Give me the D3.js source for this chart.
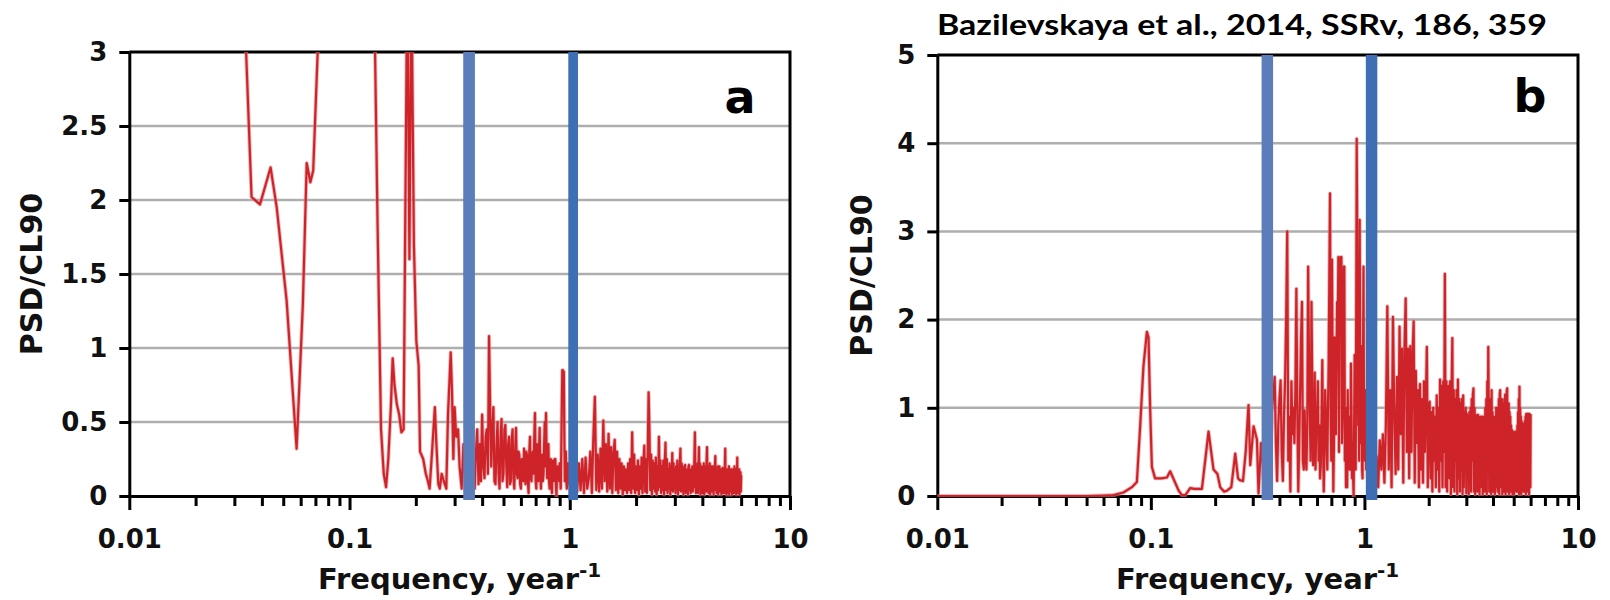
<!DOCTYPE html>
<html>
<head>
<meta charset="utf-8">
<script src="https://cdn.jsdelivr.net/npm/d3@7"></script>
<style>
  html, body { margin: 0; padding: 0; background: #fff; }
  svg { display: block; }
</style>
</head>
<body>
<svg id="chart" width="1610" height="600"></svg>
<script>
// ---------------------------------------------------------------
// Normalised power spectra (PSD divided by the 90% confidence level)
// ---------------------------------------------------------------

const titleText = "Bazilevskaya et al., 2014, SSRv, 186, 359";
const panelLetters = ["a", "b"];
const xTickLabels = [0.01, 0.1, 1, 10];
const yTicksA = [0, 0.5, 1, 1.5, 2, 2.5, 3];
const yTicksB = [0, 1, 2, 3, 4, 5];

// Frequency band edges (year^-1) marked with vertical bars
const bandA = [0.349, 1.036];
const bandB = [0.351, 1.08];

// Panel a: low-frequency part of the spectrum
const freqLowA = [0.0320, 0.0359, 0.0392, 0.0438, 0.0467, 0.0518, 0.0575, 0.0614, 0.0639, 0.0664,
  0.0684, 0.0760, 0.0900, 0.1100, 0.1250, 0.1300, 0.1340, 0.1390, 0.1430, 0.1465,
  0.1500, 0.1540, 0.1570, 0.1600, 0.1640, 0.1680, 0.1720, 0.1760, 0.1830, 0.1870,
  0.1910, 0.1960, 0.2010, 0.2060, 0.2090, 0.2160, 0.2220, 0.2270, 0.2310, 0.2370,
  0.2440, 0.2480, 0.2530, 0.2570, 0.2620, 0.2680, 0.2750, 0.2800, 0.2880, 0.2920,
  0.2960, 0.3000, 0.3050, 0.3110, 0.3160, 0.3230, 0.3290, 0.3350, 0.3420, 0.3500];
const psdLowA = [4.0, 2.02, 1.97, 2.22, 1.95, 1.32, 0.32, 1.30, 2.25, 2.12,
  2.20, 4.0, 6.0, 6.0, 5.0, 3.2, 1.85, 0.45, 0.15, 0.06,
  0.25, 0.60, 0.93, 0.75, 0.62, 0.55, 0.43, 0.45, 3.6, 1.6,
  3.5, 1.7, 1.05, 0.88, 0.30, 0.25, 0.15, 0.10, 0.05, 0.30,
  0.60, 0.35, 0.08, 0.05, 0.15, 0.10, 0.05, 0.55, 0.97, 0.70,
  0.25, 0.60, 0.40, 0.45, 0.20, 0.05, 0.35, 0.10, 0.30, 0.10];

// Panel a: regular frequency grid 0.360 ... 1.000 (step 0.005)
const gridA1 = { start: 0.36, step: 0.005 };
const psdGridA1 = [
  0.25, 0.10, 0.05, 0.30, 0.45, 0.08, 0.35, 0.10, 0.55, 0.20,
  0.12, 0.40, 0.45, 0.15, 1.08, 0.60, 0.20, 0.45, 0.60, 0.10,
  0.08, 0.35, 0.50, 0.15, 0.05, 0.40, 0.52, 0.10, 0.15, 0.45,
  0.48, 0.20, 0.06, 0.35, 0.40, 0.08, 0.10, 0.38, 0.45, 0.12,
  0.05, 0.30, 0.46, 0.15, 0.12, 0.30, 0.28, 0.08, 0.05, 0.25,
  0.25, 0.10, 0.32, 0.15, 0.08, 0.30, 0.27, 0.10, 0.02, 0.30,
  0.40, 0.12, 0.10, 0.28, 0.30, 0.15, 0.40, 0.56, 0.10, 0.05,
  0.35, 0.20, 0.10, 0.30, 0.46, 0.15, 0.05, 0.22, 0.28, 0.10,
  0.15, 0.35, 0.50, 0.20, 0.56, 0.25, 0.12, 0.30, 0.35, 0.10,
  0.05, 0.22, 0.25, 0.08, 0.02, 0.20, 0.24, 0.15, 0.10, 0.25,
  0.25, 0.08, 0.00, 0.15, 0.20, 0.18, 0.15, 0.10, 0.22, 0.12,
  0.05, 0.30, 0.60, 0.85, 0.85, 0.84, 0.84, 0.40, 0.10, 0.25,
  0.30, 0.10, 0.05, 0.20, 0.22, 0.08, 0.10, 0.15, 0.20];

// Panel a: regular frequency grid 1.02 ... 6.00 (step 0.02)
const gridA2 = { start: 1.02, step: 0.02 };
const psdGridA2 = [
  0.10, 0.02, 0.18, 0.03, 0.22, 0.04, 0.25, 0.02, 0.26, 0.05,
  0.12, 0.30, 0.02, 0.40, 0.67, 0.04, 0.28, 0.03, 0.32, 0.05,
  0.51, 0.10, 0.35, 0.03, 0.42, 0.05, 0.33, 0.02, 0.30, 0.38,
  0.04, 0.30, 0.02, 0.25, 0.05, 0.22, 0.01, 0.20, 0.04, 0.18,
  0.02, 0.22, 0.04, 0.25, 0.02, 0.43, 0.05, 0.28, 0.02, 0.20,
  0.04, 0.24, 0.01, 0.20, 0.05, 0.26, 0.02, 0.22, 0.34, 0.03,
  0.25, 0.02, 0.30, 0.70, 0.45, 0.04, 0.28, 0.01, 0.24, 0.05,
  0.22, 0.03, 0.26, 0.01, 0.20, 0.04, 0.40, 0.06, 0.24, 0.02,
  0.20, 0.04, 0.24, 0.01, 0.22, 0.36, 0.04, 0.25, 0.02, 0.18,
  0.05, 0.22, 0.01, 0.20, 0.04, 0.29, 0.03, 0.22, 0.05, 0.18,
  0.02, 0.20, 0.05, 0.24, 0.01, 0.18, 0.04, 0.22, 0.32, 0.03,
  0.22, 0.04, 0.20, 0.01, 0.18, 0.05, 0.21, 0.02, 0.16, 0.06,
  0.18, 0.01, 0.20, 0.21, 0.04, 0.18, 0.02, 0.16, 0.05, 0.20,
  0.03, 0.18, 0.06, 0.26, 0.43, 0.10, 0.02, 0.18, 0.04, 0.22,
  0.02, 0.20, 0.33, 0.05, 0.22, 0.01, 0.18, 0.04, 0.20, 0.02,
  0.18, 0.05, 0.22, 0.01, 0.16, 0.06, 0.20, 0.03, 0.24, 0.33,
  0.04, 0.20, 0.02, 0.16, 0.06, 0.22, 0.01, 0.18, 0.05, 0.20,
  0.03, 0.16, 0.05, 0.20, 0.01, 0.18, 0.06, 0.20, 0.27, 0.04,
  0.18, 0.02, 0.16, 0.05, 0.20, 0.01, 0.15, 0.06, 0.20, 0.03,
  0.16, 0.05, 0.18, 0.01, 0.15, 0.06, 0.19, 0.02, 0.16, 0.05,
  0.18, 0.02, 0.20, 0.32, 0.06, 0.18, 0.01, 0.15, 0.05, 0.18,
  0.02, 0.16, 0.05, 0.20, 0.01, 0.15, 0.06, 0.18, 0.03, 0.16,
  0.05, 0.18, 0.01, 0.15, 0.06, 0.18, 0.02, 0.16, 0.05, 0.20,
  0.02, 0.16, 0.06, 0.18, 0.01, 0.15, 0.05, 0.26, 0.06, 0.18,
  0.02, 0.16, 0.05, 0.18, 0.01, 0.15, 0.06, 0.16, 0.03, 0.14];

// Panel b: low-frequency part of the spectrum
const freqLowB = [0.0100, 0.0300, 0.0500, 0.0600, 0.0668, 0.0744, 0.0815, 0.0860, 0.0891, 0.0923,
  0.0958, 0.0975, 0.0992, 0.1011, 0.1047, 0.1120, 0.1189, 0.1231, 0.1300, 0.1350,
  0.1397, 0.1450, 0.1528, 0.1600, 0.1734, 0.1862, 0.1965, 0.2050, 0.2112, 0.2200,
  0.2271, 0.2380, 0.2483, 0.2560, 0.2610, 0.2700, 0.2780, 0.2866, 0.2920, 0.3026,
  0.3138, 0.3192, 0.3280, 0.3380, 0.3480, 0.3600, 0.3700];
const psdLowB = [0.00, 0.00, 0.00, 0.005, 0.01, 0.04, 0.10, 0.16, 0.79, 1.47,
  1.86, 1.80, 1.00, 0.33, 0.20, 0.20, 0.21, 0.28, 0.15, 0.06,
  0.01, 0.01, 0.09, 0.08, 0.08, 0.73, 0.30, 0.25, 0.10, 0.05,
  0.06, 0.10, 0.48, 0.20, 0.18, 0.17, 0.50, 1.03, 0.35, 0.79,
  0.64, 0.03, 0.60, 0.20, 0.90, 0.40, 1.00];

// Panel b: regular frequency grid 0.380 ... 1.100 (step 0.005)
const gridB1 = { start: 0.38, step: 0.005 };
const psdGridB1 = [
  1.35, 0.60, 0.17, 0.80, 1.10, 1.31, 0.50, 0.17, 0.90, 1.30,
  2.00, 3.00, 0.40, 0.90, 0.05, 1.30, 0.70, 1.00, 0.60, 1.20,
  2.35, 1.00, 0.05, 0.60, 1.20, 1.80, 2.20, 0.40, 0.30, 0.97,
  0.50, 0.30, 0.80, 2.60, 1.60, 0.90, 0.40, 2.20, 1.20, 0.35,
  0.60, 1.40, 0.30, 0.80, 0.90, 1.30, 0.40, 0.80, 0.20, 0.35,
  0.90, 1.54, 0.60, 0.05, 0.50, 1.20, 0.90, 0.60, 0.30, 1.00,
  1.50, 2.50, 3.43, 0.80, 0.40, 2.68, 1.20, 0.05, 0.60, 1.80,
  1.00, 0.70, 1.50, 2.20, 1.90, 2.71, 0.50, 2.40, 2.70, 2.71,
  2.71, 0.60, 0.90, 2.00, 2.60, 2.60, 0.40, 1.00, 0.10, 0.50,
  0.10, 1.20, 0.60, 0.90, 0.30, 0.80, 0.30, 1.50, 0.90, 0.20,
  0.60, 0.20, 0.00, 0.80, 1.60, 0.50, 0.30, 2.00, 4.05, 3.00,
  2.00, 0.80, 1.00, 0.40, 3.13, 1.50, 0.60, 1.00, 1.70, 0.30,
  0.20, 1.50, 2.60, 1.00, 0.80, 0.40, 1.20, 0.60, 0.30, 0.70,
  0.90, 0.20, 0.40, 0.70, 1.00, 0.30, 0.20, 0.60, 0.80, 0.40,
  0.50, 0.20, 0.60, 0.40, 0.30];

// Panel b: regular frequency grid 1.12 ... 6.00 (step 0.02)
const gridB2 = { start: 1.12, step: 0.02 };
const psdGridB2 = [
  0.20, 0.45, 0.10, 0.63, 0.30,
  0.70, 0.15, 0.80, 2.15, 0.30, 1.20, 0.10, 2.03, 0.90, 0.25,
  1.35, 0.30, 1.92, 0.70, 1.67, 0.15, 1.67, 2.24, 0.50, 1.67,
  0.20, 1.70, 0.50, 1.60, 1.98, 0.15, 1.42, 0.60, 1.20, 0.10,
  1.27, 0.30, 1.10, 0.15, 1.30, 0.50, 1.10, 1.69, 0.10, 1.00,
  1.07, 0.20, 0.95, 0.05, 1.00, 0.40, 0.90, 0.10, 1.14, 0.30,
  1.00, 0.05, 1.32, 0.40, 1.25, 0.10, 1.30, 0.50, 2.52, 0.10,
  1.30, 0.05, 1.10, 1.25, 0.20, 1.30, 0.02, 1.20, 1.79, 0.10,
  1.20, 0.05, 1.10, 0.40, 1.20, 0.02, 1.32, 0.20, 1.10, 0.05,
  1.05, 0.30, 1.10, 0.02, 1.14, 0.10, 0.95, 0.40, 1.00, 0.03,
  0.93, 0.20, 0.90, 0.02, 0.95, 0.30, 1.00, 0.05, 1.10, 0.40,
  1.15, 1.22, 0.05, 1.00, 0.02, 0.92, 0.30, 0.90, 0.05, 0.92,
  0.30, 0.88, 0.02, 0.90, 0.10, 0.88, 0.40, 0.90, 0.02, 0.85,
  0.20, 0.90, 0.05, 1.00, 0.30, 1.10, 0.02, 1.30, 0.40, 1.69,
  1.00, 0.05, 1.10, 0.30, 1.05, 0.02, 1.20, 0.20, 0.95, 0.05,
  0.90, 0.30, 0.85, 0.02, 0.90, 0.10, 1.00, 0.40, 0.95, 0.05,
  1.00, 0.20, 1.10, 0.02, 1.15, 1.20, 0.10, 1.00, 0.40, 1.10,
  0.02, 1.05, 0.20, 1.00, 0.05, 1.10, 0.50, 1.15, 0.02, 1.10,
  0.30, 1.20, 1.22, 0.05, 1.00, 0.40, 1.05, 0.02, 0.95, 0.20,
  0.90, 0.05, 0.80, 0.30, 0.75, 0.73, 0.02, 0.73, 0.20, 0.70,
  0.02, 0.72, 0.20, 0.73, 0.40, 0.70, 0.05, 0.73, 0.20, 0.80,
  0.05, 0.95, 0.40, 1.10, 0.02, 1.24, 0.20, 1.00, 0.50, 0.90,
  0.02, 0.85, 0.20, 0.80, 0.40, 0.82, 0.05, 0.80, 0.20, 0.80,
  0.05, 0.85, 0.30, 0.90, 0.02, 0.93, 0.20, 0.90, 0.40, 0.93,
  0.05, 0.93, 0.30, 0.92, 0.02, 0.93, 0.40, 0.90, 0.10, 0.93];

// ---------------------------------------------------------------
// Helpers to assemble the spectrum points
// ---------------------------------------------------------------
function pairPoints(freqs, vals) {
  return freqs.map((f, i) => ({ f: f, v: vals[i] }));
}
function gridPoints(grid, vals) {
  return vals.map((v, i) => ({ f: +(grid.start + i * grid.step).toFixed(4), v: v }));
}

const seriesA = pairPoints(freqLowA, psdLowA)
  .concat(gridPoints(gridA1, psdGridA1))
  .concat(gridPoints(gridA2, psdGridA2));
const seriesB = pairPoints(freqLowB, psdLowB)
  .concat(gridPoints(gridB1, psdGridB1))
  .concat(gridPoints(gridB2, psdGridB2));

// ---------------------------------------------------------------
// Layout and styling of the two panels
// ---------------------------------------------------------------
const panels = [
  {
    key: "a", letter: panelLetters[0], series: seriesA, yTicks: yTicksA, yMax: 3, bands: bandA,
    left: 129.3, right: 790, top: 52, bottom: 496,
    bandWidths: [11.7, 9.7],
    yTitleX: 42, letterDx: -50, letterY: 113
  },
  {
    key: "b", letter: panelLetters[1], series: seriesB, yTicks: yTicksB, yMax: 5, bands: bandB,
    left: 937.3, right: 1578, top: 55, bottom: 496,
    bandWidths: [11.5, 11.5],
    yTitleX: 872, letterDx: -48, letterY: 112
  }
];
const bandColors = ["#5b7ebb", "#3e6eb3"];
const lineColor = "#cd2329";
const haloColor = "#e4878a";
const gridColor = "#aeaeae";
const tickFont = "'DejaVu Sans', Verdana, sans-serif";

const svg = d3.select("#chart");
const defs = svg.append("defs");

function drawPanel(p) {
  const x = d3.scaleLog().domain([0.01, 10]).range([p.left, p.right]);
  const y = d3.scaleLinear().domain([0, p.yMax]).range([p.bottom, p.top]);
  const g = svg.append("g").attr("class", "panel-" + p.key);

  // horizontal grid lines
  g.append("g").selectAll("line")
    .data(p.yTicks.filter(t => t > 0 && t < p.yMax))
    .join("line")
    .attr("x1", x(0.01)).attr("x2", x(10))
    .attr("y1", d => y(d)).attr("y2", d => y(d))
    .attr("stroke", gridColor).attr("stroke-width", 2.5);

  // top and right frame
  g.append("path")
    .attr("d", `M${x(0.01)},${y(p.yMax)}H${x(10)}V${y(0)}`)
    .attr("fill", "none").attr("stroke", "#000").attr("stroke-width", 3);

  // y axis
  const ya = g.append("g")
    .attr("transform", `translate(${x(0.01)},0)`)
    .call(d3.axisLeft(y).tickValues(p.yTicks).tickSize(10).tickSizeOuter(0)
      .tickPadding(12).tickFormat(d => String(d)));
  ya.select(".domain").attr("stroke-width", 3).attr("stroke", "#000");
  ya.selectAll(".tick line").attr("stroke-width", 3);
  ya.selectAll(".tick text")
    .attr("font-family", tickFont).attr("font-weight", "bold")
    .attr("font-size", 26).attr("fill", "#111");

  // x axis: labelled decades
  const xa = g.append("g")
    .attr("transform", `translate(0,${y(0)})`)
    .call(d3.axisBottom(x).tickValues(xTickLabels).tickSize(14).tickSizeOuter(0)
      .tickFormat(d => String(d)));
  xa.select(".domain").attr("stroke-width", 3).attr("stroke", "#000");
  xa.selectAll(".tick line").attr("stroke-width", 3);
  xa.selectAll(".tick text")
    .attr("dy", null).attr("y", 52)
    .attr("font-family", tickFont).attr("font-weight", "bold")
    .attr("font-size", 26).attr("fill", "#111");

  // x axis: minor ticks between decades
  const minor = x.ticks().filter(t => !xTickLabels.some(m => Math.abs(m - t) < 1e-9));
  const xm = g.append("g")
    .attr("transform", `translate(0,${y(0)})`)
    .call(d3.axisBottom(x).tickValues(minor).tickSize(10).tickSizeOuter(0).tickFormat(""));
  xm.select(".domain").remove();
  xm.selectAll(".tick line").attr("stroke-width", 3);

  // spectrum line (soft halo underneath a solid core)
  const clipId = "clip-" + p.key;
  defs.append("clipPath").attr("id", clipId)
    .append("rect")
    .attr("x", x(0.01)).attr("y", y(p.yMax))
    .attr("width", x(10) - x(0.01)).attr("height", y(0) - y(p.yMax) + 1);

  const line = d3.line().x(d => x(d.f)).y(d => y(d.v));
  const sg = g.append("g").attr("clip-path", `url(#${clipId})`);
  sg.append("path")
    .datum(p.series)
    .attr("d", line)
    .attr("fill", "none")
    .attr("stroke", haloColor)
    .attr("stroke-opacity", 0.6)
    .attr("stroke-width", 4)
    .attr("stroke-linejoin", "round");
  sg.append("path")
    .datum(p.series)
    .attr("d", line)
    .attr("fill", "none")
    .attr("stroke", lineColor)
    .attr("stroke-width", 2.2)
    .attr("stroke-linejoin", "round");

  // band-edge bars
  g.append("g").selectAll("line")
    .data(p.bands)
    .join("line")
    .attr("x1", d => x(d)).attr("x2", d => x(d))
    .attr("y1", y(p.yMax)).attr("y2", y(0) + 4)
    .attr("stroke", (d, i) => bandColors[i])
    .attr("stroke-width", (d, i) => p.bandWidths[i]);

  // panel letter
  g.append("text")
    .attr("x", x(10) + p.letterDx).attr("y", p.letterY)
    .attr("text-anchor", "middle")
    .attr("font-family", tickFont).attr("font-weight", "bold")
    .attr("font-size", 46).attr("fill", "#000")
    .text(p.letter);

  // y title
  g.append("text")
    .attr("transform", `translate(${p.yTitleX},${(y(0) + y(p.yMax)) / 2}) rotate(-90)`)
    .attr("text-anchor", "middle")
    .attr("font-family", tickFont).attr("font-weight", "bold")
    .attr("font-size", 30).attr("fill", "#111")
    .text("PSD/CL90");

  // x title with superscript
  const xt = g.append("text")
    .attr("x", (x(0.01) + x(10)) / 2).attr("y", 589)
    .attr("text-anchor", "middle")
    .attr("font-family", tickFont).attr("font-weight", "bold")
    .attr("font-size", 29).attr("fill", "#111");
  xt.append("tspan").text("Frequency, year");
  xt.append("tspan").attr("font-size", 20).attr("dy", -12).text("-1");
}

panels.forEach(drawPanel);

// reference title above panel b
svg.append("text")
  .attr("x", 1242).attr("y", 35)
  .attr("text-anchor", "middle")
  .attr("font-family", "Lato, 'Open Sans', sans-serif")
  .attr("font-weight", "bold")
  .attr("font-size", 28)
  .attr("textLength", 610)
  .attr("lengthAdjust", "spacingAndGlyphs")
  .attr("fill", "#000")
  .text(titleText);
</script>
</body>
</html>
